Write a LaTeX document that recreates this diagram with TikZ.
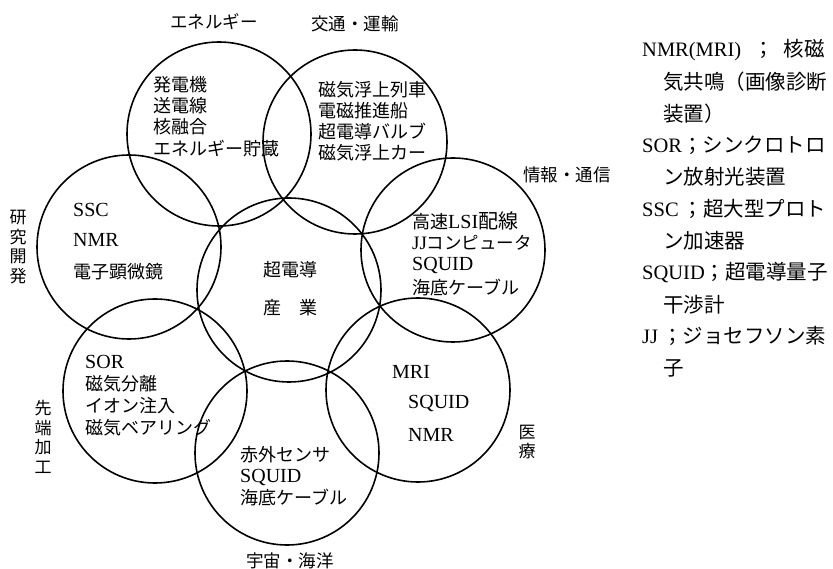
\documentclass[tikz,border=0pt]{standalone}
\usepackage{fontspec}
\setmainfont{Liberation Serif}
\newfontfamily\cjk{Noto Sans CJK JP}
\newcommand\J[1]{{\cjk #1}}
\begin{document}
\begin{tikzpicture}[x=1pt,y=-1pt,
  ring/.style={draw, circle, line width=1.6pt, minimum size=184pt, inner sep=0pt},
  txt/.style={anchor=west, inner sep=0pt, font=\fontsize{18}{20}\selectfont},
  lat/.style={anchor=west, inner sep=0pt, font=\fontsize{20}{22}\selectfont},
  lbl/.style={anchor=center, inner sep=0pt, font=\fontsize{17.5}{20}\selectfont\cjk},
  vlbl/.style={anchor=center, inner sep=0pt, align=center, font=\fontsize{17}{19.5}\selectfont\cjk},
  note/.style={anchor=west, inner sep=0pt, font=\fontsize{20.5}{22}\selectfont}]
\useasboundingbox[fill=white] (0,0) rectangle (833,569);

% circles
\node[ring] (center)    at (289,290) {};
\node[ring] (energy)    at (219,134) {};
\node[ring] (transport) at (355,142) {};
\node[ring] (info)      at (453,250) {};
\node[ring] (medical)   at (418,390) {};
\node[ring] (space)     at (287,453) {};
\node[ring] (advanced)  at (155,391) {};
\node[ring] (research)  at (129,247) {};

% outer labels
\node[lbl] (lEnergy)    at (214,22)  {エネルギー};
\node[lbl] (lTransport) at (355,24)  {交通・運輸};
\node[lbl] (lInfo)      at (567,175) {情報・通信};
\node[lbl] (lSpace)     at (290,561) {宇宙・海洋};
\node[vlbl] (lResearch) at (18,247)  {研\\究\\開\\発};
\node[vlbl] (lAdvanced) at (43,437)  {先\\端\\加\\工};
\node[vlbl] (lMedical)  at (527,442) {医\\療};

% center
\node[txt, anchor=center] (c1) at (290,270) {\J{超電導}};
\node[txt, anchor=center] (c2) at (290,308) {\J{産　業}};

% energy
\node[txt] (e1) at (153,85)  {\J{発電機}};
\node[txt] (e2) at (153,106) {\J{送電線}};
\node[txt] (e3) at (153,127) {\J{核融合}};
\node[txt] (e4) at (153,149) {\J{エネルギー貯蔵}};

% transport
\node[txt] (t1) at (318,90)  {\J{磁気浮上列車}};
\node[txt] (t2) at (318,111) {\J{電磁推進船}};
\node[txt] (t3) at (318,132) {\J{超電導バルブ}};
\node[txt] (t4) at (318,153) {\J{磁気浮上カー}};

% research
\node[lat] (r1) at (73,210) {SSC};
\node[lat] (r2) at (73,240) {NMR};
\node[txt] (r3) at (73,272) {\J{電子顕微鏡}};

% info
\node[txt] (i1) at (412,221) {\J{高速}\fontsize{20}{22}\selectfont LSI\J{配線}};
\node[txt] (i2) at (412,243) {\fontsize{19}{22}\selectfont JJ\fontsize{17.5}{20}\selectfont\J{コンピュータ}};
\node[lat] (i3) at (412,266) {SQUID};
\node[txt] (i4) at (412,288) {\J{海底ケーブル}};

% advanced processing
\node[lat] (a1) at (85,362) {SOR};
\node[txt] (a2) at (85,384) {\J{磁気分離}};
\node[txt] (a3) at (85,406) {\J{イオン注入}};
\node[txt] (a4) at (85,428) {\J{磁気ベアリング}};

% medical
\node[lat] (m1) at (392,372) {MRI};
\node[lat] (m2) at (408,403) {SQUID};
\node[lat] (m3) at (408,435) {NMR};

% space / ocean
\node[txt] (s1) at (240,455) {\J{赤外センサ}};
\node[lat] (s2) at (240,477) {SQUID};
\node[txt] (s3) at (240,498) {\J{海底ケーブル}};

% glossary
\node[note] (g1)  at (642,50)    {NMR(MRI)\hspace{12pt}\J{；}\hspace{10pt}\J{核磁}};
\node[note] (g2)  at (663,81.8)  {\J{気共鳴（画像診断}};
\node[note] (g3)  at (663,113.6) {\J{装置）}};
\node[note] (g4)  at (642,145.4) {SOR\J{；シンクロトロ}};
\node[note] (g5)  at (663,177.2) {\J{ン放射光装置}};
\node[note] (g6)  at (642,209)   {SSC\hspace{4pt}\J{；超大型プロト}};
\node[note] (g7)  at (663,240.8) {\J{ン加速器}};
\node[note] (g8)  at (642,272.6) {SQUID\J{；超電導量子}};
\node[note] (g9)  at (663,304.4) {\J{干渉計}};
\node[note] (g10) at (642,336.2) {JJ\hspace{4pt}\J{；ジョセフソン素}};
\node[note] (g11) at (663,368)   {\J{子}};
\end{tikzpicture}
\end{document}
